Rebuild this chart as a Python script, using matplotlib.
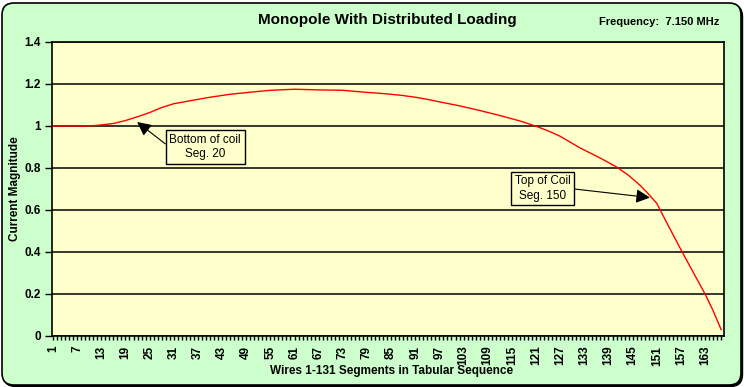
import matplotlib
matplotlib.use("Agg")
import matplotlib.pyplot as plt
from matplotlib.patches import FancyBboxPatch

plt.rcParams['font.family'] = ['Liberation Sans', 'DejaVu Sans']

# segment number vs current magnitude
segments = [1, 7, 10, 13, 16, 19, 22, 25, 28, 31, 35, 40, 45, 50, 55, 61, 67,
            73, 76, 79, 82, 85, 88, 91, 94, 97, 102, 107, 112, 117, 121, 124,
            127, 132, 137, 141, 144, 147, 149, 151, 153, 155, 157, 160, 163,
            165, 167]
current = [1.0, 1.0, 1.0, 1.005, 1.012, 1.026, 1.044, 1.064, 1.088, 1.106,
           1.12, 1.137, 1.151, 1.161, 1.170, 1.175, 1.172, 1.170, 1.165,
           1.160, 1.156, 1.151, 1.145, 1.137, 1.127, 1.115, 1.096, 1.074,
           1.05, 1.024, 0.999, 0.977, 0.951, 0.895, 0.847, 0.805, 0.765,
           0.715, 0.675, 0.632, 0.557, 0.484, 0.411, 0.305, 0.2, 0.12, 0.03]
tick_labels = list(range(1, 168, 6))
y_ticks = [0, 0.2, 0.4, 0.6, 0.8, 1.0, 1.2, 1.4]
y_tick_labels = ['0', '0.2', '0.4', '0.6', '0.8', '1', '1.2', '1.4']

W, H = 744, 387
fig = plt.figure(figsize=(W / 100, H / 100), dpi=100, facecolor='white')

# rounded chart-area frame with a small shadow
shadow = FancyBboxPatch((0.035, 0.005), 7.39, 3.82,
                        boxstyle="round,pad=0,rounding_size=0.12",
                        transform=fig.dpi_scale_trans, fc='black', ec='black',
                        lw=1, zorder=-2)
frame = FancyBboxPatch((0.02, 0.02), 7.39, 3.82,
                       boxstyle="round,pad=0,rounding_size=0.12",
                       transform=fig.dpi_scale_trans, fc='#CCFFCC', ec='black',
                       lw=1.2, zorder=-1)
fig.patches.append(shadow)
fig.patches.append(frame)

ax = fig.add_axes([52 / W, (H - 336) / H, (724 - 52) / W, (336 - 42) / H])
ax.set_facecolor('#FFFFCC')
for s in ax.spines.values():
    s.set_color('black')
    s.set_linewidth(1.2)

ax.plot(segments, current, color='red', lw=1.0, zorder=3)

ax.set_xlim(0.75, 167.7)
ax.set_ylim(0, 1.4)
ax.set_yticks(y_ticks)
ax.set_yticklabels(y_tick_labels, fontsize=8.5, fontweight='bold')
ax.set_xticks(tick_labels)
ax.set_xticklabels([str(t) for t in tick_labels], rotation=90, fontsize=8.5,
                   fontweight='bold')
ax.set_xticks(range(1, 168), minor=True)
ax.tick_params(axis='x', which='both', length=3, width=1, direction='out', pad=4)
ax.tick_params(axis='y', length=5, width=1, direction='out', pad=3)
ax.yaxis.grid(True, color='black', lw=1.1)
ax.set_axisbelow(True)

arrow = dict(arrowstyle='-|>,head_length=0.6,head_width=0.3', color='black',
             lw=0.8, mutation_scale=14, shrinkA=0, shrinkB=0)
box = dict(boxstyle='square,pad=0.3', fc='#FFFFCC', ec='black', lw=1)

ax.annotate('Bottom of coil\nSeg. 20', xy=(21.9, 1.019), xytext=(38.8, 0.9),
            textcoords='data', ha='center', va='center', fontsize=8.5,
            linespacing=1.25, bbox=box,
            arrowprops=dict(arrow, relpos=(0, 0.5)), zorder=5)
ax.annotate('Top of Coil\nSeg. 150', xy=(149.3, 0.659), xytext=(122.7, 0.702),
            textcoords='data', ha='center', va='center', fontsize=8.5,
            linespacing=1.25, bbox=box,
            arrowprops=dict(arrow, relpos=(1, 0.5)), zorder=5)

fig.text(387 / W, 1 - 20 / H, 'Monopole With Distributed Loading', ha='center',
         va='center', fontsize=11, fontweight='bold')
fig.text(719 / W, 1 - 22 / H, 'Frequency:  7.150 MHz', ha='right',
         va='center', fontsize=8, fontweight='bold')
fig.text(15 / W, 1 - 189 / H, 'Current Magnitude',
         rotation=90, ha='center', va='center', fontsize=8.5, fontweight='bold')
fig.text(392 / W, 1 - 371 / H, 'Wires 1-131 Segments in Tabular Sequence',
         ha='center', va='center', fontsize=8.5, fontweight='bold')

fig.savefig('out.png', dpi=100, facecolor='white')
